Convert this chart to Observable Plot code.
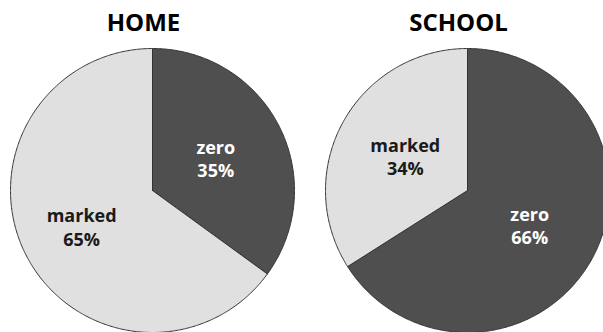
<!DOCTYPE html>
<html>
<head>
<meta charset="utf-8">
<script src="https://cdn.jsdelivr.net/npm/d3@7"></script>
<script src="https://cdn.jsdelivr.net/npm/@observablehq/plot@0.6"></script>
<style>
  html, body { margin: 0; padding: 0; background: #fff; }
  #chart svg { display: block; }
</style>
</head>
<body>
<div id="chart"></div>
<script>
// ---- data ----
const pies = ["HOME", "SCHOOL"];
const categories = ["zero", "marked"];
const homeValues = [35, 65];
const schoolValues = [66, 34];

// ---- layout (in pixels) ----
const W = 603, H = 332;
const R = 142;               // pie radius
const centersPx = [152, 467]; // pie centre x
const centerYPx = 190;       // pie centre y
const titleYPx = 23;
const titleShiftPx = -9;

const valuesByPie = [homeValues, schoolValues];
const cx = centersPx.map(c => (c - centersPx[0]) / R); // centre in radius units

// build wedge polygons from the values (clockwise from 12 o'clock)
const wedgePoints = [];
const labels = [];
valuesByPie.forEach((vals, pi) => {
  const total = d3.sum(vals);
  let acc = 0;
  vals.forEach((v, ci) => {
    const a0 = acc / total * 2 * Math.PI;
    const a1 = (acc + v) / total * 2 * Math.PI;
    acc += v;
    const key = pies[pi] + "-" + categories[ci];
    const n = Math.max(2, Math.ceil((a1 - a0) / (Math.PI / 360)));
    wedgePoints.push({key, cat: categories[ci], x: cx[pi], y: 0});
    for (let k = 0; k <= n; k++) {
      const a = a0 + (a1 - a0) * k / n;
      wedgePoints.push({key, cat: categories[ci], x: cx[pi] + Math.sin(a), y: Math.cos(a)});
    }
    wedgePoints.push({key, cat: categories[ci], x: cx[pi], y: 0});
    const am = (a0 + a1) / 2;
    const rho = v > 50 && categories[ci] === "marked" ? 0.56 : 0.5;
    labels.push({
      cat: categories[ci],
      x: cx[pi] + rho * Math.sin(am),
      y: rho * Math.cos(am),
      text: categories[ci] + "\n" + v + "%"
    });
  });
});

const titles = pies.map((p, i) => ({text: p, x: cx[i] + titleShiftPx / R, y: (centerYPx - titleYPx) / R}));

const chart = Plot.plot({
  width: W,
  height: H,
  margin: 0,
  style: {fontFamily: "'Open Sans', sans-serif", background: "#fff"},
  x: {domain: [-centersPx[0] / R, (W - centersPx[0]) / R], axis: null},
  y: {domain: [-(H - centerYPx) / R, centerYPx / R], axis: null},
  color: {domain: categories, range: ["#4f4f4f", "#e0e0e0"]},
  marks: [
    Plot.line(wedgePoints, {
      x: "x", y: "y", z: "key", fill: "cat",
      stroke: "#333", strokeWidth: 1, strokeLinejoin: "round",
      clip: true
    }),
    Plot.text(labels, {
      x: "x", y: "y", text: "text",
      fill: d => d.cat === "zero" ? "#ffffff" : "#1a1a1a",
      fontSize: 18, fontWeight: "bold", lineHeight: 1.3
    }),
    Plot.text(titles, {
      x: "x", y: "y", text: "text",
      fill: "#000", fontSize: 24, fontWeight: "bold"
    })
  ]
});
document.getElementById("chart").appendChild(chart);
</script>
</body>
</html>
